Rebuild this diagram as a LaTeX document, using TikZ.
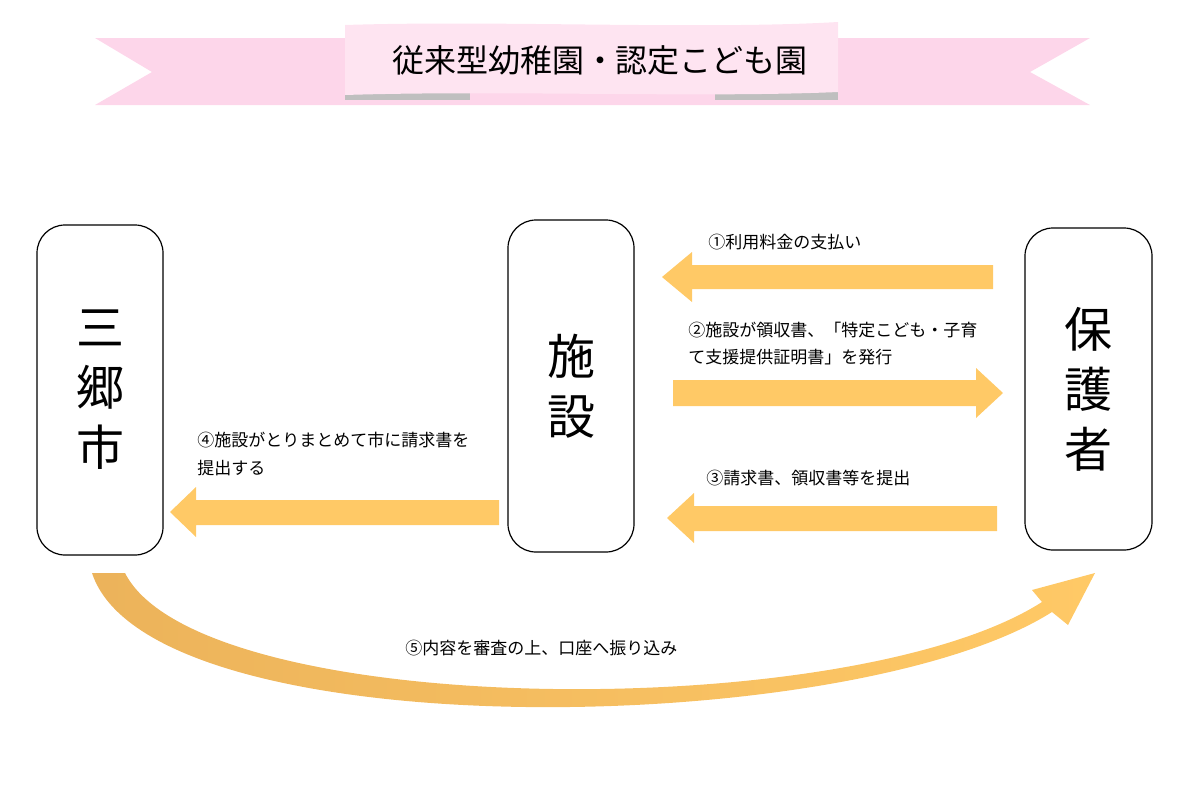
\documentclass[tikz,border=0pt]{standalone}
\usepackage{fontspec}
\setmainfont{Noto Sans CJK JP}
\begin{document}
\begin{tikzpicture}[x=0.5pt,y=-0.5pt]
\tikzset{box/.style={draw,rounded corners=14pt,line width=0.6pt,fill=white},
 lbl/.style={anchor=west,font=\fontsize{8.5}{10}\selectfont,inner sep=0},
 big/.style={font=\fontsize{24}{30}\selectfont,align=center}}
\definecolor{arr}{HTML}{FFC966}
\definecolor{pk}{HTML}{FDD6EA}
\definecolor{pkl}{HTML}{FEE4F1}
\useasboundingbox (0,0) rectangle (1196,810);
% banner
\fill[pk] (95,38) -- (1090,38) -- (1030,72) -- (1090,105) -- (95,105) -- (152,72) -- cycle;
\fill[gray!50] (345,90) rectangle (470,100);
\fill[gray!50] (715,90) rectangle (838,100);
\fill[pkl] (345,25) .. controls (500,20) and (700,30) .. (838,22) -- (838,92) .. controls (700,98) and (500,90) .. (345,95) -- cycle;
\node[font=\fontsize{16}{19}\selectfont] (title) at (600,60) {従来型幼稚園・認定こども園};
% boxes
\draw[box] (37,225) rectangle (163,555);
\node[big] (city) at (100,390) {三\\郷\\市};
\draw[box] (508,220) rectangle (634,552);
\node[big] (fac) at (571,386) {施\\設};
\draw[box] (1025,228) rectangle (1152,550);
\node[big] (par) at (1088,389) {保\\護\\者};
% arrows
\fill[arr] (993,265) -- (692,265) -- (692,252) -- (662,277) -- (692,302) -- (692,289) -- (993,289) -- cycle;
\fill[arr] (673,380) -- (976,380) -- (976,368) -- (1003,393) -- (976,418) -- (976,406) -- (673,406) -- cycle;
\fill[arr] (997,506) -- (694,506) -- (694,493) -- (667,518) -- (694,543) -- (694,531) -- (997,531) -- cycle;
\fill[arr] (499,500) -- (196,500) -- (196,487) -- (170,512) -- (196,537) -- (196,525) -- (499,525) -- cycle;
% curved arrow
\shade[left color=arr!70!brown, right color=arr]
 (92,573) .. controls (150,750) and (850,740) .. (1052,612)
 -- (1068,625) -- (1095,573) -- (1032,590) -- (1042,602)
 .. controls (850,725) and (200,720) .. (125,573) -- cycle;
% labels
\node[lbl] (l1) at (708,242) {①利用料金の支払い};
\node[lbl] (l2) at (688,330) {②施設が領収書、「特定こども・子育};
\node[lbl] (l2b) at (688,357) {て支援提供証明書」を発行};
\node[lbl] (l3) at (706,478) {③請求書、領収書等を提出};
\node[lbl] (l4) at (197,440) {④施設がとりまとめて市に請求書を};
\node[lbl] (l4b) at (197,468) {提出する};
\node[lbl] (l5) at (405,648) {⑤内容を審査の上、口座へ振り込み};
\end{tikzpicture}
\end{document}
